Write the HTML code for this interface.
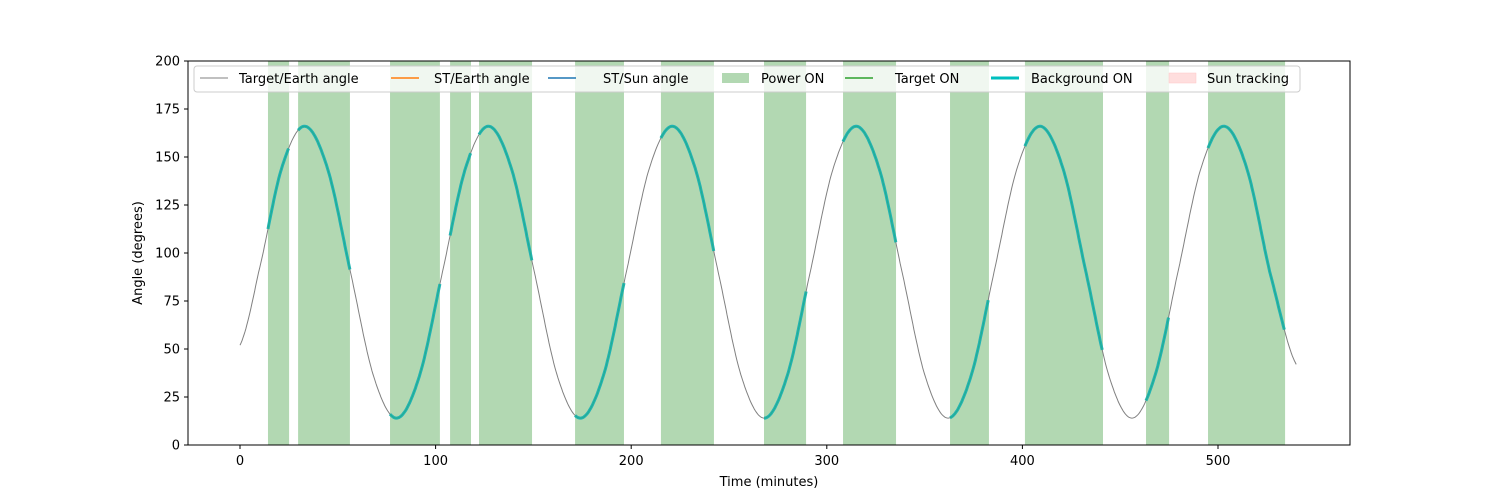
<!DOCTYPE html>
<html><head><meta charset="utf-8"><style>
body{margin:0;background:#fff;font-family:"DejaVu Sans","Liberation Sans",sans-serif}
svg text{font-family:"DejaVu Sans","Liberation Sans",sans-serif;fill:#000}
</style></head><body>
<svg id="chart" width="1500" height="500" viewBox="0 0 1500 500" xmlns="http://www.w3.org/2000/svg">
<g id="spans"></g>
<g id="lines"></g>
<rect x="188" y="61" width="1162" height="384" fill="none" stroke="#000" stroke-width="1"/>
<g id="ticks"></g>
<text x="769" y="486" font-size="13" text-anchor="middle">Time (minutes)</text>
<text x="142" y="253" font-size="13" text-anchor="middle" transform="rotate(-90 142 253)">Angle (degrees)</text>
<g>
<rect x="194" y="66" width="1106" height="26" rx="3" fill="#fff" fill-opacity="0.8" stroke="#ccc"/>
<line x1="200" y1="78" x2="228" y2="78" stroke="#808080" stroke-width="1"/><text x="239" y="83" font-size="13">Target/Earth angle</text>
<line x1="391" y1="78" x2="419" y2="78" stroke="#ff7f0e" stroke-width="1.5"/><text x="434" y="83" font-size="13">ST/Earth angle</text>
<line x1="548" y1="78" x2="576" y2="78" stroke="#1f77b4" stroke-width="1.5"/><text x="603" y="83" font-size="13">ST/Sun angle</text>
<rect x="722" y="73" width="27" height="10" fill="#b2d8b2"/><text x="761" y="83" font-size="13">Power ON</text>
<line x1="845" y1="78" x2="873" y2="78" stroke="#2ca02c" stroke-width="1.5"/><text x="895" y="83" font-size="13">Target ON</text>
<line x1="991" y1="78" x2="1019" y2="78" stroke="#00bfbf" stroke-width="3"/><text x="1031" y="83" font-size="13">Background ON</text>
<rect x="1169" y="73" width="27" height="10" fill="#ffdede" stroke="#ffc8c8" stroke-width="0.5"/><text x="1207" y="83" font-size="13">Sun tracking</text>
</g>
</svg>
<script>
const times=[0,9.5,21.25,33,44.75,56.5,68.25,80,91.75,103.5,115.25,127,138.75,150.5,162.25,174,185.75,197.5,209.25,221,232.75,244.5,256.25,268,279.75,291.5,303.25,315,326.75,338.5,350.25,362,373.75,385.5,397.25,409,420.75,432.5,444.25,456,467.75,479.5,491.25,503,514.75,526.5,540];
const angles=[52,90,144,166,144,90,36,14,36,90,144,166,144,90,36,14,36,90,144,166,144,90,36,14,36,90,144,166,144,90,36,14,36,90,144,166,144,90,36,14,36,90,144,166,144,90,42];
const spanStarts=[14.3,29.7,76.7,107.4,122.2,171.3,215.2,267.9,308.3,363,401.3,463.2,494.9];
const spanEnds=[25.1,56.2,102.2,118.1,149.3,196.3,242.3,289.4,335.4,382.9,441.2,475,534.3];
const xTicks=[0,100,200,300,400,500];
const yTicks=[0,25,50,75,100,125,150,175,200];
const X=t=>240+t*1.956, Y=v=>445-v*1.92;
const NS='http://www.w3.org/2000/svg';
function mk(tag,attrs,parent){const e=document.createElementNS(NS,tag);for(const k in attrs)e.setAttribute(k,attrs[k]);parent.appendChild(e);return e;}
// catmull-rom evaluation between data points for rendering
function valAt(t){let i=0;while(i<times.length-2&&times[i+1]<t)i++;
 const p0=angles[Math.max(i-1,0)],p1=angles[i],p2=angles[i+1],p3=angles[Math.min(i+2,angles.length-1)];
 const u=(t-times[i])/(times[i+1]-times[i]);
 return 0.5*((2*p1)+(-p0+p2)*u+(2*p0-5*p1+4*p2-p3)*u*u+(-p0+3*p1-3*p2+p3)*u*u*u);}
function pathFor(a,b){let d='';for(let t=a;t<=b+1e-9;t+=0.5){d+=(d?'L':'M')+X(t).toFixed(1)+','+Y(valAt(Math.min(t,b))).toFixed(1);}return d;}
const sp=document.getElementById('spans'),ln=document.getElementById('lines'),tk=document.getElementById('ticks');
spanStarts.forEach((s,i)=>{const r=mk('rect',{x:X(s),y:61,width:X(spanEnds[i])-X(s),height:384,fill:'#b2d8b2'},sp);

});
const base=mk('path',{d:pathFor(times[0],times[times.length-1]),fill:'none',stroke:'#808080','stroke-width':1},ln);


spanStarts.forEach((s,i)=>{const p=mk('path',{d:pathFor(s,spanEnds[i]),fill:'none',stroke:'#22b3b3','stroke-width':3},ln);


const q=mk('path',{d:pathFor(s,spanEnds[i]),fill:'none',stroke:'#2ca02c','stroke-width':0.6,'stroke-opacity':0.4},ln);

});
xTicks.forEach(v=>{mk('line',{x1:X(v),x2:X(v),y1:445,y2:449,stroke:'#000'},tk);
const t=mk('text',{x:X(v),y:465,'font-size':13,'text-anchor':'middle'},tk);t.textContent=v;

});
yTicks.forEach(v=>{mk('line',{x1:184,x2:188,y1:Y(v),y2:Y(v),stroke:'#000'},tk);
const t=mk('text',{x:180,y:Y(v)+4.5,'font-size':13,'text-anchor':'end'},tk);t.textContent=v;

});
</script>
</body></html>
